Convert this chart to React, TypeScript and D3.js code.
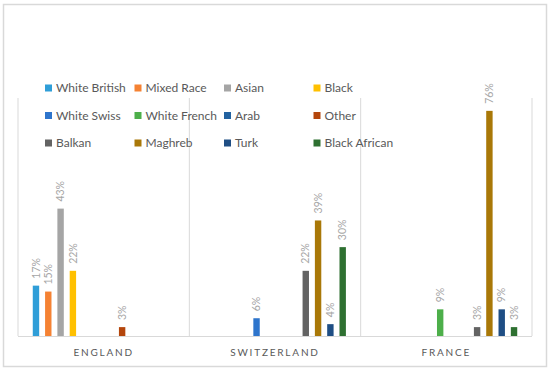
import * as d3 from 'd3'

const countries = ['ENGLAND', 'SWITZERLAND', 'FRANCE']
const groups = ['White British', 'Mixed Race', 'Asian', 'Black', 'White Swiss', 'White French', 'Arab', 'Other', 'Balkan', 'Maghreb', 'Turk', 'Black African']
const groupColors = ['#2F9ED8', '#F58233', '#A5A5A5', '#FFC000', '#2E75CC', '#4DAF4A', '#2262A0', '#B4460C', '#636363', '#A97808', '#1F4E84', '#2E7031']

// percent of population, null = no bar for that country
const england = [17, 15, 43, 22, null, null, null, 3, null, null, null, null]
const switzerland = [null, null, null, null, 6, null, null, null, 22, 39, 4, 30]
const france = [null, null, null, null, null, 9, null, null, 3, 76, 9, 3]

const yTicks = [0, 80]

const W = 550
const H = 372
const plot = { left: 18, right: 532, top: 99, bottom: 336 }
const FONT = 'Lato, "Open Sans", sans-serif'

export default function App() {
  const rows = [england, switzerland, france]

  const x0 = d3.scaleBand<string>().domain(countries).range([plot.left, plot.right]).paddingInner(0).paddingOuter(0)
  const x1 = d3.scaleBand<string>().domain(groups).range([0, x0.bandwidth()]).paddingInner(0.48).paddingOuter(1.2)
  const y = d3.scaleLinear().domain([yTicks[0], yTicks[1]]).range([plot.bottom, plot.top])

  const legendX = (i: number) => 45 + (i % 4) * 89.5
  const legendY = (i: number) => 88 + Math.floor(i / 4) * 27.5

  return (
    <div style={{ position: 'absolute', left: 0, top: 0, width: W, height: H, background: '#fff' }}>
      <svg width={W} height={H} style={{ display: 'block', fontFamily: FONT }}>
        <rect x={3.5} y={4.5} width={543} height={362} fill="#fff" stroke="#d9d9d9" strokeWidth={1.5} />

        {/* category separators */}
        {[...countries.map(c => x0(c) || 0), plot.right].map((xv, i) => (
          <line key={'g' + i} x1={xv} x2={xv} y1={plot.top - 1} y2={plot.bottom} stroke="#d9d9d9" strokeWidth={1} />
        ))}
        <line x1={plot.left} x2={plot.right} y1={plot.bottom + 0.5} y2={plot.bottom + 0.5} stroke="#d9d9d9" strokeWidth={1} />

        {/* legend */}
        {groups.map((g, i) => (
          <g key={'l' + g}>
            <rect x={legendX(i)} y={legendY(i) - 3.5} width={7} height={7} fill={groupColors[i]} />
            <text x={legendX(i) + 11} y={legendY(i)} dy="0.35em" fontSize={12} fill="#595959">{g}</text>
          </g>
        ))}

        {/* bars */}
        {countries.map((c, ci) => (
          <g key={c} transform={`translate(${x0(c)},0)`}>
            {rows[ci].map((v, si) => {
              if (v == null) return null
              const bx = x1(groups[si]) || 0
              const bw = x1.bandwidth()
              const cx = bx + bw / 2
              const top = y(v)
              return (
                <g key={groups[si]}>
                  <rect x={bx} y={top} width={bw} height={plot.bottom - top} fill={groupColors[si]} />
                  <text transform={`translate(${cx},${top - 7}) rotate(-90)`} dy="0.35em" fontSize={10.5} fill="#a6a6a6">{v}%</text>
                </g>
              )
            })}
            <text x={x0.bandwidth() / 2} y={352} dy="0.35em" textAnchor="middle" fontSize={10} letterSpacing={1.8} fill="#595959">{c}</text>
          </g>
        ))}
      </svg>
    </div>
  )
}
